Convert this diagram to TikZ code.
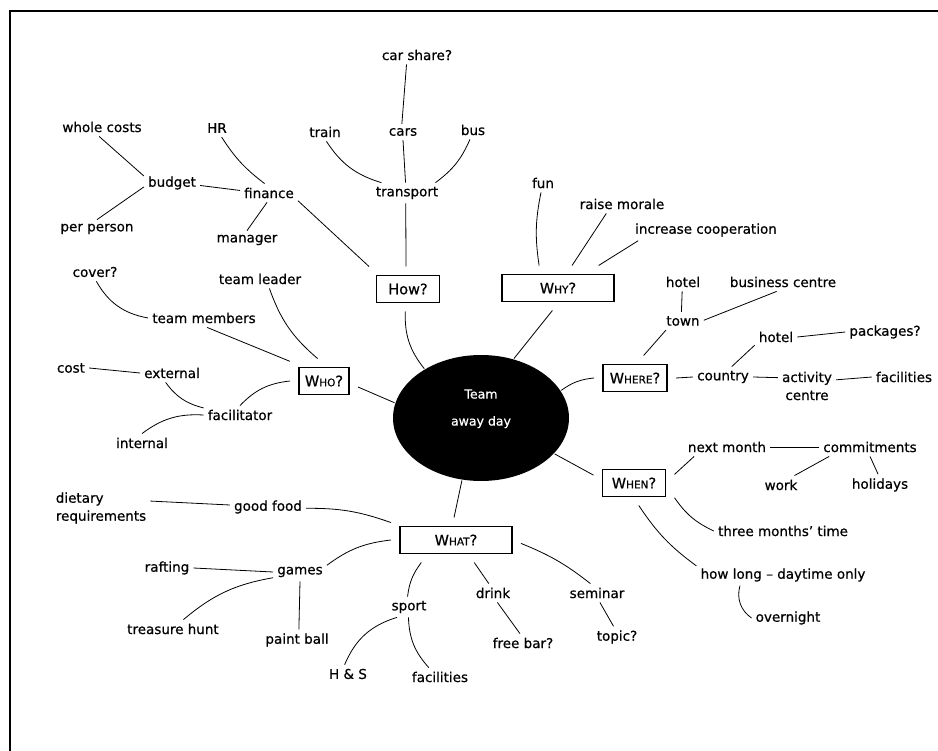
\documentclass[tikz,border=0pt]{standalone}
\usepackage{fontspec}
\setmainfont{DejaVu Sans}[UprightFeatures={FakeBold=0.6}]
\usetikzlibrary{shapes.geometric}
\newcommand\qcap[2]{#1{\fontsize{10.5}{12}\selectfont #2}?}

\begin{document}
\begin{tikzpicture}
  [x=1pt,y=1pt,every node/.style={inner sep=4pt, font=\fontsize{13.5}{15}\selectfont},
   qbox/.style={draw, line width=1.1pt, minimum height=27pt, inner sep=2pt, outer sep=9pt,
     font=\fontsize{14.5}{16}\selectfont},
   hub/.style={ellipse, fill=black, text=white, minimum width=176pt, minimum height=126pt,
     outer sep=1pt, align=center, text depth=21pt, font=\fontsize{12.5}{27}\selectfont},
   twoline/.style={font=\fontsize{13.5}{18}\selectfont}]
  \useasboundingbox (0,0) rectangle (938,-751);
  \draw[line width=1.3pt] (10,-760) -- (10,-11) -- (950,-11);

  % centre and questions
  \node[hub] (team) at (481,-418) {Team\\away day};
  \node[qbox, minimum width=63pt] (how) at (408,-289) {How?};
  \node[qbox, minimum width=112pt] (why) at (558,-288) {\qcap{W}{HY}};
  \node[qbox, minimum width=50pt] (who) at (324,-381) {\qcap{W}{HO}};
  \node[qbox, minimum width=64pt] (where) at (635,-378) {\qcap{W}{HERE}};
  \node[qbox, minimum width=63pt] (when) at (634,-483) {\qcap{W}{HEN}};
  \node[qbox, minimum width=112pt] (what) at (456,-540) {\qcap{W}{HAT}};

  % how
  \node (transport) at (407,-193) {transport};
  \node (train) at (325,-132) {train};
  \node (cars) at (403,-132) {cars};
  \node (bus) at (473,-130) {bus};
  \node (carshare) at (417,-55) {car share?};
  \node (finance) at (269,-193) {finance};
  \node (hr) at (217,-128) {HR};
  \node (manager) at (247,-240) {manager};
  \node (budget) at (172,-183) {budget};
  \node (whole) at (102,-127) {whole costs};
  \node (perperson) at (97,-229) {per person};

  % why
  \node (fun) at (543,-183) {fun};
  \node (morale) at (622,-204) {raise morale};
  \node (coop) at (706,-230) {increase cooperation};

  % who
  \node (leader) at (260,-279) {team leader};
  \node (members) at (204,-318) {team members};
  \node (cover) at (95,-272) {cover?};
  \node (facil) at (240,-415) {facilitator};
  \node (external) at (172,-373) {external};
  \node (cost) at (71,-368) {cost};
  \node (internal) at (142,-443) {internal};

  % where
  \node (town) at (683,-321) {town};
  \node (hoteltown) at (683,-282) {hotel};
  \node (business) at (783,-282) {business centre};
  \node (country) at (723,-377) {country};
  \node (hotelc) at (776,-337) {hotel};
  \node (packages) at (885,-332) {packages?};
  \node[twoline, align=center] (activity) at (807,-386) {activity\\centre};
  \node (facilwhere) at (904,-377) {facilities};

  % when
  \node (nextmonth) at (727,-447) {next month};
  \node (commit) at (870,-447) {commitments};
  \node (work) at (781,-485) {work};
  \node (holidays) at (880,-485) {holidays};
  \node (three) at (783,-531) {three months' time};
  \node (howlong) at (783,-575) {how long -- daytime only};
  \node (overnight) at (788,-618) {overnight};

  % what
  \node (goodfood) at (268,-507) {good food};
  \node[twoline, align=left] (dietary) at (101,-508) {dietary\\requirements};
  \node (games) at (300,-572) {games};
  \node (rafting) at (167,-568) {rafting};
  \node (treasure) at (173,-629) {treasure hunt};
  \node (paint) at (297,-640) {paint ball};
  \node (sport) at (409,-607) {sport};
  \node (hs) at (348,-674) {H \& S};
  \node (facilsport) at (440,-677) {facilities};
  \node (drink) at (493,-593) {drink};
  \node (freebar) at (523,-643) {free bar?};
  \node (seminar) at (597,-593) {seminar};
  \node (topic) at (617,-637) {topic?};

  \foreach \from/\to in {carshare.-138/cars.98, transport.98/cars.-90, how.95/transport.-97,
      how.150/finance.-15, finance.-102/manager.90, finance.175/budget.-5, budget.166/whole.-107,
      budget.-172/perperson.90, why.58/morale.-149, why.29/coop.-171, who.150/members.-72,
      external.180/cost.0, who.-10/team.170, why.-104/team.61, where.69/town.-152,
      town.100/hoteltown.-95, town.2/business.-124, where.0/country.180, country.50/hotelc.-159,
      hotelc.0/packages.180, country.0/activity.164, activity.12/facilwhere.180,
      team.-26/when.169, when.12/nextmonth.-164, nextmonth.0/commit.180, commit.-167/work.35,
      commit.-90/holidays.100, team.-107/what.95, goodfood.177/dietary.8, games.180/rafting.0,
      games.-90/paint.80, what.-51/drink.114, drink.-65/freebar.108, seminar.-73/topic.108}
    \draw[line width=0.8pt] (\from) -- (\to);

  \foreach \from/\to/\b in {train.-81/transport.158/20, transport.20/bus.-108/15,
      hr.-63/finance.115/10, why.130/fun.-102/-10, leader.-45/who.106/15,
      cover.-82/members.180/25, who.180/facil.90/20, external.-124/facil.169/20,
      facil.180/internal.90/20, how.-97/team.139/20, team.19/where.180/-15,
      when.-20/three.180/15, when.-78/howlong.174/10, howlong.-166/overnight.180/35,
      goodfood.-2/what.165/-10, what.180/games.14/15, games.-168/treasure.42/15,
      what.-147/sport.98/15, sport.-139/hs.110/25, sport.-93/facilsport.140/20,
      what.-3/seminar.125/-8}
    \draw[line width=0.8pt] (\from) to[bend right=\b] (\to);
\end{tikzpicture}
\end{document}
